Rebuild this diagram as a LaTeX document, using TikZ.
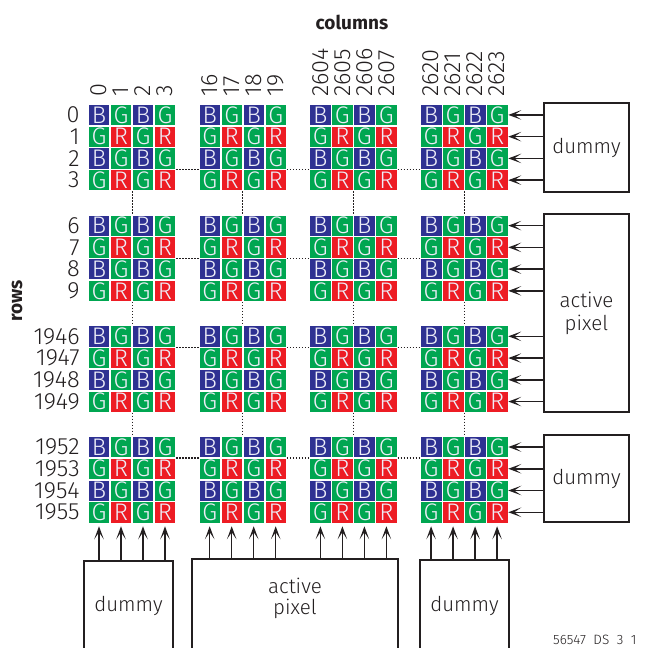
\documentclass[tikz,border=0pt]{standalone}
\usepackage{fontspec}
\setmainfont{Fira Sans Light}[BoldFont={Fira Sans Bold}]
\usetikzlibrary{arrows.meta}

\definecolor{pixblue}{HTML}{2E3192}
\definecolor{pixgreen}{HTML}{00A651}
\definecolor{pixred}{HTML}{ED1C24}
\definecolor{ink}{HTML}{231F20}
\definecolor{glyph}{HTML}{EEEEF8}

\tikzset{
  cell/.style={rectangle,inner sep=0pt,minimum width=21.6pt,minimum height=21.3pt,
    draw=white,line width=0.7pt,text=glyph,font=\fontsize{24}{24}\selectfont},
  px0/.style={cell,fill=pixblue},
  px1/.style={cell,fill=pixgreen},
  px2/.style={cell,fill=pixgreen},
  px3/.style={cell,fill=pixred},
  lbl/.style={inner sep=0pt,text=ink,font=\fontsize{23.5}{23.5}\selectfont},
  title/.style={inner sep=0pt,text=ink,font=\fontsize{19}{19}\selectfont\bfseries},
  dots/.style={draw=ink,line width=1.2pt,dash pattern=on 1.4pt off 1.6pt},
  feed/.style={draw=ink,line width=1.5pt,-{Stealth[length=13pt,width=9.5pt,inset=7pt]}},
  srcbox/.style={draw=ink,line width=1.1pt,inner sep=0pt,text=ink,align=center,
    font=\fontsize{20.5}{23}\selectfont},
  actbox/.style={srcbox,line width=2pt},
  boxtxt/.style={inner sep=0pt,text=ink,align=center,font=\fontsize{20.5}{21}\selectfont}
}

\begin{document}
\begin{tikzpicture}[x=1pt,y=-1pt]
\useasboundingbox (0,0) rectangle (648,648);

% Bayer cells: row block i, column block j, row r, column c
\foreach \i in {0,...,3}
  \foreach \j in {0,...,3}
    \foreach \r in {0,...,3}
      \foreach \c in {0,...,3} {
        \pgfmathtruncatemacro\kind{mod(\r,2)*2+mod(\c,2)}
        \node[px\kind] (c-\i-\j-\r-\c) at ({99+110.7*\j+22*\c},{114.9+110.7*\i+21.75*\r})
          {\ifcase\kind B\or G\or G\or R\fi};
      }

% column numbers
\foreach \j/\cols in {0/{0,1,2,3},1/{16,17,18,19},2/{2604,2605,2606,2607},3/{2620,2621,2622,2623}}
  \foreach \lab [count=\c from 0] in \cols
    \node[lbl,rotate=90,anchor=west] (col-\j-\c) at ([yshift=7pt]c-0-\j-0-\c.north) {\lab};

% row numbers
\foreach \i/\rows in {0/{0,1,2,3},1/{6,7,8,9},2/{1946,1947,1948,1949},3/{1952,1953,1954,1955}}
  \foreach \lab [count=\r from 0] in \rows
    \node[lbl,anchor=east] (row-\i-\r) at ([xshift=-8pt]c-\i-0-\r-0.west) {\lab};

\node[title] (colhead) at (352,22) {columns};
\node[title,rotate=90] (rowhead) at (17,301) {rows};

% dotted gaps between blocks
\foreach \i/\n in {0/2,1/1,2/0,3/0}
  \foreach \j/\k in {0/1,1/2,2/3}
    \draw[dots] (c-\i-\j-\n-3.south east) -- (c-\i-\k-\n-0.south west);
\foreach \i/\k in {0/1,1/2,2/3}
  \foreach \j in {0,...,3}
    \draw[dots] (c-\i-\j-3-1.south east) -- (c-\k-\j-0-1.north east);

% row drivers on the right
\node[srcbox,minimum width=85pt,minimum height=89pt] (dumR1) at (586.5,147.5) {dummy};
\node[actbox,minimum width=85pt,minimum height=198pt] (actR) at (586.5,313) {active\\pixel};
\node[srcbox,minimum width=85pt,minimum height=87pt] (dumR2) at (586.5,478.5) {dummy};

\foreach \r in {0,...,3} {
  \draw[feed] (dumR1.west |- c-0-3-\r-3.east) -- (c-0-3-\r-3.east);
  \draw[feed] (actR.west |- c-1-3-\r-3.east) -- (c-1-3-\r-3.east);
  \draw[feed] (actR.west |- c-2-3-\r-3.east) -- (c-2-3-\r-3.east);
  \draw[feed] (dumR2.west |- c-3-3-\r-3.east) -- (c-3-3-\r-3.east);
}

% column drivers at the bottom
\node[srcbox,minimum width=89pt,minimum height=104pt] (dumB1) at (128.5,613) {};
\node[actbox,minimum width=206pt,minimum height=106pt] (actB) at (295,612) {};
\node[srcbox,minimum width=89pt,minimum height=105pt] (dumB2) at (464.5,612.5) {};
\node[boxtxt] (dumB1-txt) at ([yshift=-46pt]dumB1.north) {dummy};
\node[boxtxt] (actB-txt) at ([yshift=-40pt]actB.north) {active\\pixel};
\node[boxtxt] (dumB2-txt) at ([yshift=-47pt]dumB2.north) {dummy};

\foreach \c in {0,...,3} {
  \draw[feed] (dumB1.north -| c-3-0-3-\c.south) -- ([yshift=-3pt]c-3-0-3-\c.south);
  \draw[feed] (actB.north -| c-3-1-3-\c.south) -- ([yshift=-3pt]c-3-1-3-\c.south);
  \draw[feed] (actB.north -| c-3-2-3-\c.south) -- ([yshift=-3pt]c-3-2-3-\c.south);
  \draw[feed] (dumB2.north -| c-3-3-3-\c.south) -- ([yshift=-3pt]c-3-3-3-\c.south);
}

\node[inner sep=0pt,anchor=base west,text=ink,font=\fontsize{13.5}{13.5}\selectfont]
  (figid) at (553,644) {56547\ \ DS\ \ 3\ \ 1};
\end{tikzpicture}
\end{document}
